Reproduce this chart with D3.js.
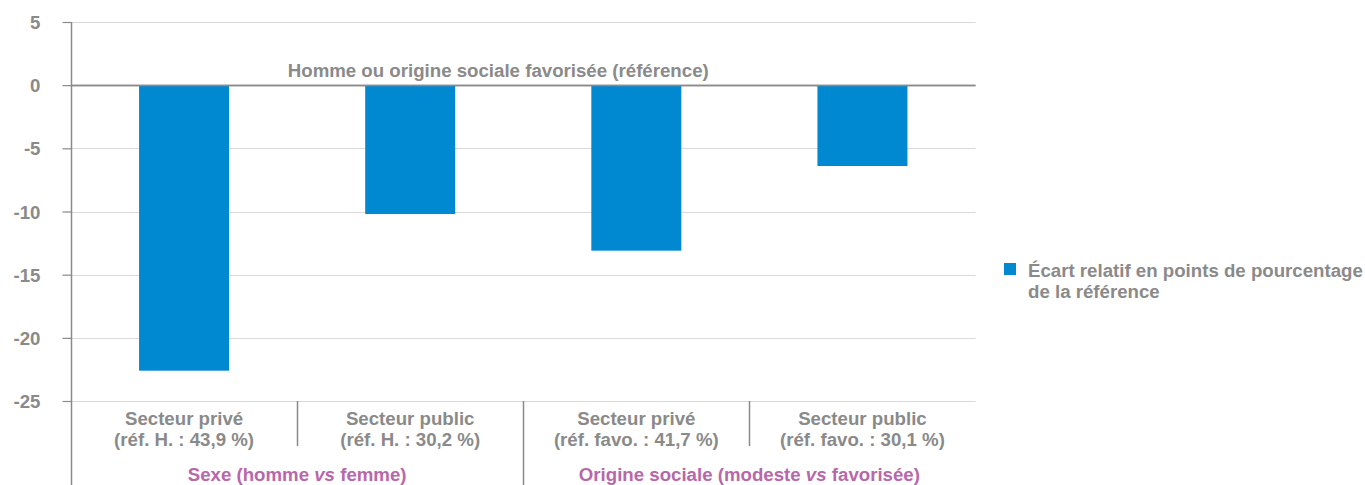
<!DOCTYPE html>
<html><head><meta charset="utf-8">
<script src="https://cdn.jsdelivr.net/npm/d3@7"></script>
<style>body{margin:0;background:#fff}svg{display:block;font-family:"Liberation Sans",Arial,sans-serif;font-weight:bold}</style>
</head><body><svg id="c" width="1365" height="485"></svg>
<script>
const categories = ["Secteur privé|(réf. H. : 43,9 %)", "Secteur public|(réf. H. : 30,2 %)", "Secteur privé|(réf. favo. : 41,7 %)", "Secteur public|(réf. favo. : 30,1 %)"];
const values = [-22.6, -10.2, -13.1, -6.4];
const groups = [["Sexe (homme ", "vs", " femme)"], ["Origine sociale (modeste ", "vs", " favorisée)"]];
const yTicks = [5, 0, -5, -10, -15, -20, -25];
const seriesName = ["Écart relatif en points de pourcentage", "de la référence"];
const refLabel = "Homme ou origine sociale favorisée (référence)";

const svg = d3.select("#c");
const L = 71, R = 975.5, T = 22, B = 401;
const gray = "#8a8a8a", blue = "#0088d1", pink = "#b867ab";
const y = d3.scaleLinear().domain([-25, 5]).range([B, T]);
const x = d3.scaleBand().domain(d3.range(categories.length)).range([L, R]).paddingInner(0).paddingOuter(0);
const bw = 90;

// gridlines
svg.append("g").selectAll("line").data(yTicks).join("line")
  .attr("x1", L).attr("x2", R).attr("y1", d => Math.round(y(d)) + 0.5).attr("y2", d => Math.round(y(d)) + 0.5)
  .attr("stroke", d => d === 0 ? gray : "#d9d9d9").attr("stroke-width", d => d === 0 ? 1.5 : 1.2);

// bars
svg.append("g").selectAll("rect").data(values).join("rect")
  .attr("x", (d, i) => x(i) + x.bandwidth() / 2 - bw / 2)
  .attr("width", bw)
  .attr("y", d => y(Math.max(0, d)))
  .attr("height", d => Math.abs(y(d) - y(0)))
  .attr("fill", blue);

// redraw zero line on top
svg.append("line").attr("x1", L).attr("x2", R).attr("y1", Math.round(y(0)) + 0.5).attr("y2", Math.round(y(0)) + 0.5)
  .attr("stroke", gray).attr("stroke-width", 1.5);

// y axis
const yAxis = d3.axisLeft(y).tickValues(yTicks).tickSize(9).tickFormat(d => String(d));
const ga = svg.append("g").attr("transform", `translate(${L + 0.5},0)`).call(yAxis);
ga.select(".domain").remove();
ga.selectAll(".tick line").attr("stroke", gray).attr("stroke-width", 1.2);
ga.selectAll(".tick text").attr("fill", gray).attr("font-size", "18.67px").attr("font-weight", "bold")
  .attr("font-family", '"Liberation Sans",Arial,sans-serif').attr("x", -31).attr("dy", "0.35em");
svg.append("line").attr("x1", L + 0.5).attr("x2", L + 0.5).attr("y1", T).attr("y2", 485).attr("stroke", gray).attr("stroke-width", 1.5);

// category separators
[1, 2, 3].forEach(i => {
  const xx = Math.round(x(i)) + 0.5;
  svg.append("line").attr("x1", xx).attr("x2", xx).attr("y1", B).attr("y2", i === 2 ? 485 : 446)
    .attr("stroke", gray).attr("stroke-width", 1.5);
});

// category labels
categories.forEach((c, i) => {
  const [a, b] = c.split("|");
  const cx = x(i) + x.bandwidth() / 2;
  const t = svg.append("text").attr("x", cx).attr("text-anchor", "middle").attr("fill", gray).attr("font-size", "18.67px");
  t.append("tspan").attr("x", cx).attr("y", 425).text(a);
  t.append("tspan").attr("x", cx).attr("y", 446).text(b);
});

// group labels
groups.forEach((g, gi) => {
  const cx = (x(gi * 2) + x(gi * 2 + 1) + x.bandwidth()) / 2;
  const t = svg.append("text").attr("x", cx).attr("y", 481).attr("text-anchor", "middle").attr("fill", pink).attr("font-size", "18.67px");
  t.append("tspan").text(g[0]);
  t.append("tspan").attr("font-style", "italic").text(g[1]);
  t.append("tspan").text(g[2]);
});

// reference label
svg.append("text").attr("x", (L + R) / 2 - 25).attr("y", 77).attr("text-anchor", "middle").attr("fill", gray)
  .attr("font-size", "18.67px").text(refLabel);

// legend
svg.append("rect").attr("x", 1004).attr("y", 263).attr("width", 12).attr("height", 12).attr("fill", blue);
svg.append("text").attr("x", 1028).attr("y", 277).attr("fill", gray).attr("font-size", "18.67px").text(seriesName[0]);
svg.append("text").attr("x", 1028).attr("y", 298).attr("fill", gray).attr("font-size", "18.67px").text(seriesName[1]);
</script></body></html>
